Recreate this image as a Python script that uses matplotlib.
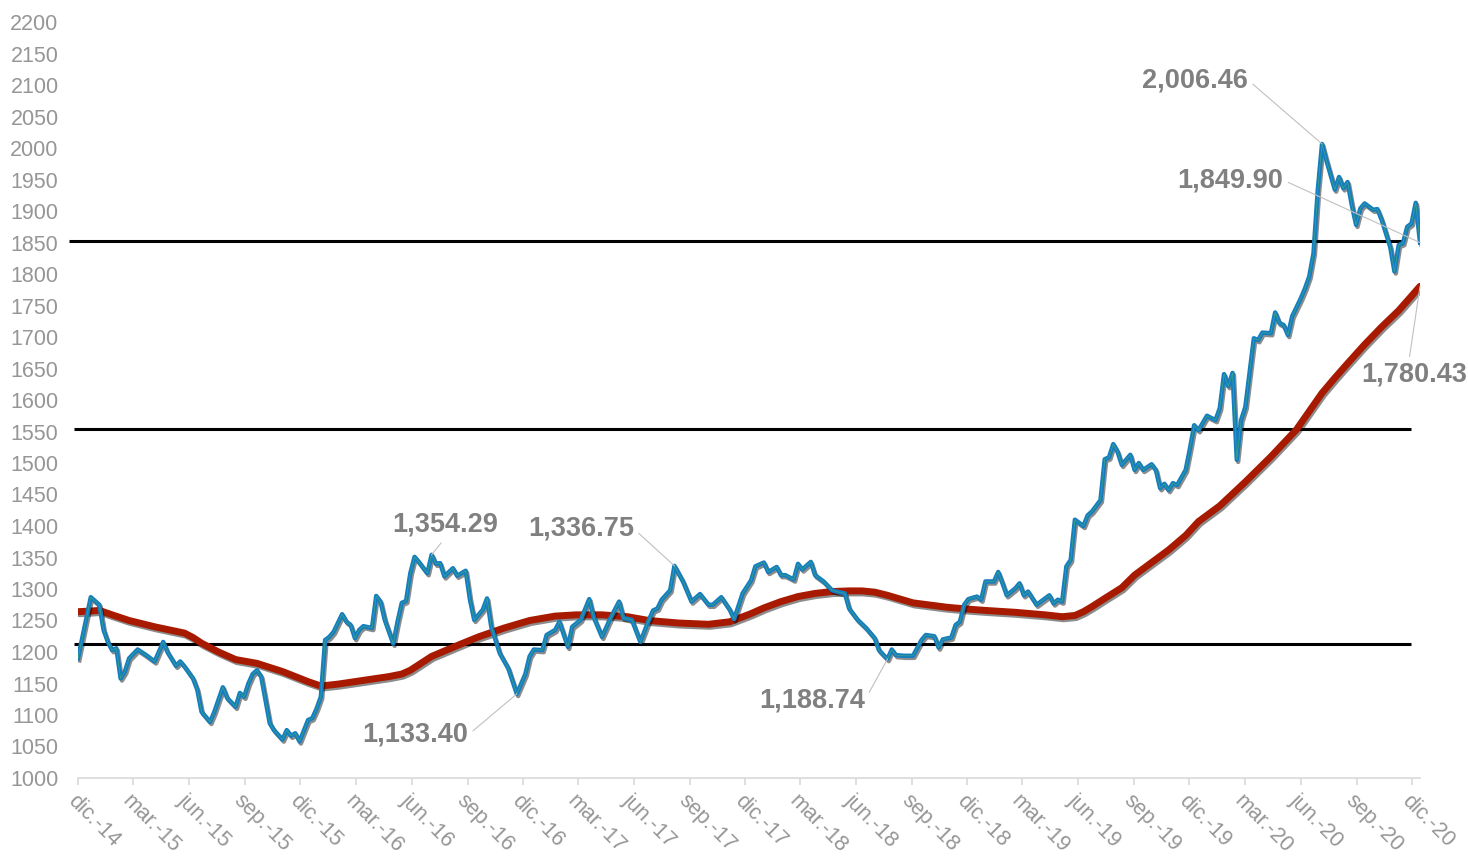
import matplotlib
matplotlib.use('Agg')
import matplotlib.pyplot as plt
import matplotlib.dates as mdates
import matplotlib.patheffects as pe
import pandas as pd

plt.rcParams['font.family'] = ['Liberation Sans', 'DejaVu Sans']

# weekly gold price (week index from dic.-14) and its moving average
price_week = [0, 3, 5, 6, 7, 8, 9, 10, 11, 12, 14, 16, 18, 20, 21, 23, 24, 25, 27, 28,
              29, 31, 32, 34, 35, 37, 38, 39, 40, 41, 42, 43, 44, 45, 46, 48, 49, 50, 51, 52,
              54, 55, 56, 57, 58, 59, 60, 62, 63, 64, 65, 66, 67, 69, 70, 71, 72, 74, 75, 76,
              77, 78, 79, 80, 82, 83, 84, 85, 86, 88, 89, 91, 92, 93, 95, 96, 97, 99, 101, 103,
              105, 106, 107, 109, 110, 112, 113, 115, 116, 118, 120, 121, 123, 125, 127, 128, 130, 132, 134, 135,
              136, 137, 139, 140, 142, 144, 146, 148, 149, 151, 153, 154, 156, 158, 159, 161, 162, 164, 165, 166,
              168, 169, 170, 172, 173, 175, 177, 178, 180, 181, 183, 185, 187, 188, 190, 191, 192, 194, 196, 198,
              199, 201, 202, 203, 205, 206, 207, 208, 209, 211, 212, 213, 215, 216, 217, 218, 220, 221, 222, 223,
              225, 226, 228, 229, 230, 231, 232, 233, 234, 236, 237, 238, 240, 241, 242, 243, 244, 245, 247, 248,
              249, 250, 252, 253, 254, 255, 256, 257, 258, 260, 261, 262, 263, 265, 267, 268, 269, 270, 271, 272,
              273, 274, 276, 277, 278, 280, 281, 282, 283, 284, 285, 287, 288, 289, 290, 291, 292, 293, 295, 296,
              297, 298, 299, 300, 301, 302, 304, 305, 306, 308, 309, 310, 311, 312, 313, 314, 315]
price = [1190, 1287, 1275, 1235, 1216, 1203, 1206, 1158, 1169, 1190, 1204, 1195, 1185, 1216, 1200, 1178, 1185, 1177, 1158, 1140,
         1105, 1089, 1105, 1144, 1127, 1113, 1135, 1129, 1150, 1165, 1171, 1161, 1124, 1087, 1076, 1061, 1076, 1067, 1071, 1058,
         1092, 1095, 1110, 1129, 1219, 1224, 1232, 1260, 1248, 1243, 1222, 1235, 1241, 1238, 1289, 1280, 1251, 1213, 1248, 1278,
         1281, 1325, 1351, 1343, 1325, 1354.29, 1340, 1341, 1320, 1333, 1321, 1329, 1283, 1251, 1267, 1285, 1240, 1198, 1174, 1133.40,
         1165, 1193, 1204, 1203, 1227, 1235, 1248, 1208, 1240, 1251, 1284, 1256, 1224, 1254, 1280, 1254, 1251, 1216, 1251, 1266,
         1269, 1283, 1298, 1336.75, 1312, 1280, 1292, 1275, 1275, 1287, 1267, 1252, 1293, 1314, 1336, 1342, 1327, 1335, 1322, 1322,
         1315, 1340, 1331, 1343, 1322, 1312, 1298, 1296, 1293, 1269, 1251, 1238, 1222, 1203, 1188.74, 1204, 1195, 1194, 1194, 1219,
         1227, 1225, 1207, 1220, 1223, 1243, 1248, 1275, 1284, 1288, 1283, 1312, 1312, 1327, 1309, 1290, 1301, 1309, 1290, 1296,
         1275, 1280, 1290, 1277, 1283, 1280, 1336, 1346, 1410, 1400, 1417, 1423, 1441, 1506, 1509, 1530, 1518, 1497, 1513, 1489,
         1500, 1489, 1498, 1489, 1460, 1467, 1457, 1468, 1465, 1489, 1523, 1560, 1552, 1575, 1568, 1587, 1641, 1622, 1643, 1505,
         1568, 1589, 1698, 1695, 1707, 1706, 1739, 1722, 1719, 1703, 1733, 1761, 1777, 1796, 1833, 1933, 2006.46, 1981, 1934, 1954,
         1936, 1946, 1909, 1878, 1904, 1912, 1902, 1903, 1886, 1843, 1804, 1846, 1849, 1875, 1880, 1913, 1849.90]

ma_week = [0, 3, 5, 8, 12, 18, 25, 27, 29, 33, 37, 42, 48, 54, 57, 61, 68, 73, 76, 78,
           83, 90, 94, 100, 106, 112, 117, 123, 129, 134, 141, 148, 153, 158, 161, 165, 169, 173, 177, 181,
           184, 187, 190, 193, 196, 204, 209, 213, 220, 227, 231, 234, 236, 238, 241, 245, 248, 252, 256, 260,
           263, 268, 274, 280, 286, 289, 292, 295, 298, 302, 306, 310, 313, 315]
ma = [1264, 1265, 1266, 1259, 1250, 1240, 1230, 1223, 1214, 1200, 1188, 1182, 1169, 1153, 1146, 1149, 1156, 1161, 1165, 1171,
      1193, 1213, 1224, 1238, 1250, 1257, 1259, 1259, 1256, 1250, 1246, 1244, 1248, 1261, 1270, 1280, 1288, 1293, 1296, 1297,
      1297, 1295, 1290, 1284, 1278, 1271, 1268, 1266, 1263, 1259, 1256, 1258, 1264, 1272, 1285, 1302, 1322, 1342, 1362, 1385,
      1407, 1432, 1470, 1510, 1553, 1582, 1611, 1635, 1658, 1688, 1716, 1742, 1765, 1780.43]

# support / resistance levels with their start and end week
levels = [1853, 1554, 1213]
level_span = [(-2, 311), (-1, 313), (-1, 313)]

month_es = {3: 'mar.', 6: 'jun.', 9: 'sep.', 12: 'dic.'}

start = pd.Timestamp('2014-12-01')
def wk(w):
    return start + pd.to_timedelta(7 * w, unit='D')

px = [wk(w) for w in price_week]
mx = [wk(w) for w in ma_week]

fig = plt.figure(figsize=(14.68, 8.57), dpi=100)
ax = fig.add_axes([78 / 1468, 79 / 857, 1342 / 1468, 756 / 857])

for lv, (a, b) in zip(levels, level_span):
    ax.hlines(lv, wk(a), wk(b), color='black', lw=2.2, clip_on=False, zorder=2)

shadow = [pe.SimpleLineShadow(offset=(1, -1.5), shadow_color='black', alpha=0.45), pe.Normal()]
ax.plot(mx, ma, color='#a81a00', lw=5.0, solid_capstyle='round', solid_joinstyle='round',
        path_effects=shadow, zorder=3)
ax.plot(px, price, color='#137dbf', lw=3.2, solid_joinstyle='round', path_effects=shadow, zorder=4)
ax.plot(px, price, color='#5fbf5f', lw=0.5, alpha=0.6, zorder=5)

ax.set_ylim(1000, 2200)
ax.set_yticks(range(1000, 2201, 50))
ax.set_xlim(wk(0), wk(315))

ax.xaxis.set_major_locator(mdates.MonthLocator(bymonth=[3, 6, 9, 12]))
ax.xaxis.set_major_formatter(plt.FuncFormatter(
    lambda v, p: '%s-%s' % (month_es[mdates.num2date(v).month], mdates.num2date(v).strftime('%y'))))

for s in ['left', 'top', 'right']:
    ax.spines[s].set_visible(False)
ax.spines['bottom'].set_color('#d9d9d9')
ax.spines['bottom'].set_linewidth(1.2)
ax.tick_params(axis='y', length=0, pad=14, labelsize=15.5, labelcolor='#969696')
ax.tick_params(axis='x', length=5, color='#d9d9d9', width=1.2, pad=4, labelsize=15.5, labelcolor='#969696')
for lab in ax.get_xticklabels():
    lab.set_rotation(-45)
    lab.set_ha('left')
    lab.set_va('top')
    lab.set_rotation_mode('anchor')

# data labels: (series, week, text right edge px, text centre y px, leader anchor on text)
notes = [
    (price_week, price, 83, 498, 525, (0.5, 0.0)),
    (price_week, price, 140, 634, 529, (1.0, 0.5)),
    (price_week, price, 103, 468, 735, (1.0, 0.5)),
    (price_week, price, 190, 865, 700, (1.0, 0.5)),
    (price_week, price, 292, 1248, 80, (1.0, 0.5)),
    (price_week, price, 315, 1283, 180, (1.0, 0.5)),
    (ma_week, ma, 315, 1467, 375, (0.45, 1.0)),
]
for weeks, vals, w, xr, yc, rel in notes:
    v = vals[weeks.index(w)]
    ax.annotate('{:,.2f}'.format(v), xy=(wk(w), v), xytext=(xr, 857 - yc),
                textcoords='figure pixels', ha='right', va='center',
                fontsize=19.5, fontweight='bold', color='#808080',
                arrowprops=dict(arrowstyle='-', color='#c0c0c0', lw=0.8,
                                shrinkA=2, shrinkB=0, relpos=rel),
                zorder=6, annotation_clip=False)

fig.savefig('out.png', dpi=100)
